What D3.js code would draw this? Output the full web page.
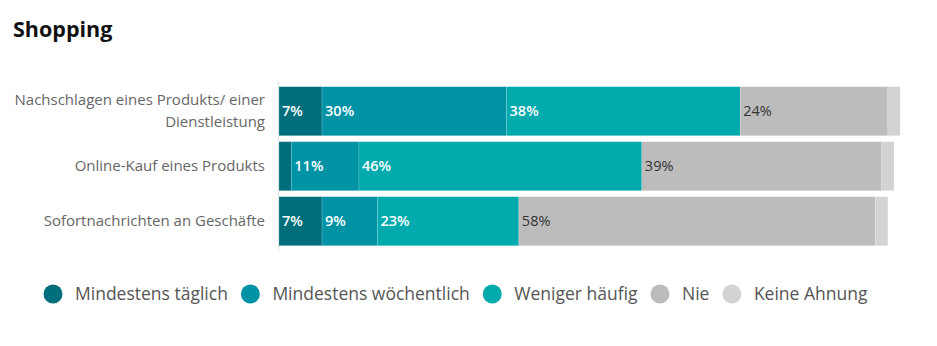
<!DOCTYPE html>
<html><head><meta charset="utf-8">
<script src="https://cdn.jsdelivr.net/npm/d3@7"></script>
<style>body{margin:0;background:#fff;font-family:"Open Sans",sans-serif;}</style>
</head><body><svg id="c" width="937" height="346"></svg>
<script>
const categories = [["Nachschlagen eines Produkts/ einer","Dienstleistung"],["Online-Kauf eines Produkts"],["Sofortnachrichten an Geschäfte"]];
const seriesNames = ["Mindestens täglich","Mindestens wöchentlich","Weniger häufig","Nie","Keine Ahnung"];
const daily = [7, 2, 7];
const weekly = [30, 11, 9];
const lessOften = [38, 46, 23];
const never = [24, 39, 58];
const dontKnow = [2, 2, 2];
const colors = ["#006f7b","#0093a6","#00aaad","#bbbcbb","#d3d3d3"];
const labelColors = ["#fff","#fff","#fff","#333",null];
const minLabel = 5;

const svg = d3.select("#c");
svg.append("text").attr("x",13).attr("y",37).attr("font-size",21.5).attr("font-weight",700)
  .attr("fill","#111").text("Shopping");

const series = [daily, weekly, lessOften, never, dontKnow];
const rows = categories.map((c,i)=>{ const o={i}; seriesNames.forEach((s,k)=>o[s]=series[k][i]); return o; });
const stack = d3.stack().keys(seriesNames)(rows);

const x = d3.scaleLinear().domain([0,100]).range([279, 279+615]);
const y = d3.scaleBand().domain(d3.range(categories.length)).range([86.7, 245.7]).paddingInner(6/55).paddingOuter(0);

svg.append("line").attr("x1",278.5).attr("x2",278.5).attr("y1",81).attr("y2",251).attr("stroke","#e2e2e2");

stack.forEach((layer,k)=>{
  const g = svg.append("g");
  g.selectAll("rect").data(layer).join("rect")
    .attr("x",d=>x(d[0])).attr("width",d=>x(d[1])-x(d[0]))
    .attr("y",(d,i)=>y(i)).attr("height",y.bandwidth())
    .attr("fill",colors[k]).attr("stroke","rgba(255,255,255,0.3)").attr("stroke-width",0.5);
  if(labelColors[k]){
    g.selectAll("text").data(layer.filter(d=>d[1]-d[0]>=minLabel)).join("text")
      .attr("x",d=>x(d[0])+3).attr("y",d=>y(d.data.i)+y.bandwidth()/2+5)
      .attr("font-size",14.5).attr("font-weight",labelColors[k]==="#fff"?600:400)
      .attr("fill",labelColors[k]).text(d=>(d[1]-d[0])+"%");
  }
});

categories.forEach((lines,i)=>{
  const cy = y(i)+y.bandwidth()/2;
  const t = svg.append("text").attr("text-anchor","end").attr("font-size",15).attr("fill","#666");
  lines.forEach((l,j)=>{
    t.append("tspan").attr("x",265).attr("y",cy+5+(j-(lines.length-1)/2)*22).text(l);
  });
});

const leg = svg.append("g");
let lx = 53;
seriesNames.forEach((s,k)=>{
  leg.append("circle").attr("cx",lx).attr("cy",294).attr("r",9.5).attr("fill",colors[k]);
  const t = leg.append("text").attr("x",lx+22).attr("y",300).attr("font-size",17.5).attr("fill","#555").text(s);
  lx += 22 + t.node().getComputedTextLength() + 22.5;
});
</script></body></html>
